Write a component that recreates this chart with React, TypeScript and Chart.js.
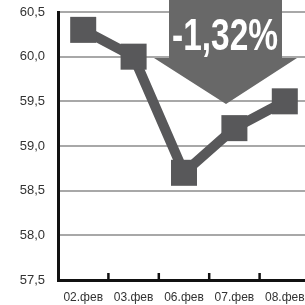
import React, { useEffect, useRef } from "react";
import { Chart, registerables } from "chart.js";

Chart.register(...registerables);

const categories = ["02.фев", "03.фев", "06.фев", "07.фев", "08.фев"];
const values = [60.3, 60.0, 58.7, 59.2, 59.5];
const yMin = 57.5;
const yMax = 60.5;
const yStep = 0.5;
const badgeText = "-1,32%";

const arrowPlugin = {
  id: "arrowBadge",
  beforeDatasetsDraw(chart: any) {
    const ctx = chart.ctx;
    ctx.save();
    ctx.fillStyle = "#686868";
    ctx.beginPath();
    ctx.moveTo(169, 0);
    ctx.lineTo(282, 0);
    ctx.lineTo(282, 58);
    ctx.lineTo(297, 58);
    ctx.lineTo(226, 104);
    ctx.lineTo(154, 58);
    ctx.lineTo(169, 58);
    ctx.closePath();
    ctx.fill();
    ctx.fillStyle = "#ffffff";
    ctx.font = 'bold 44px "Liberation Sans", sans-serif';
    ctx.textAlign = "center";
    ctx.textBaseline = "alphabetic";
    const w = ctx.measureText(badgeText).width;
    const sx = 106 / w;
    ctx.translate(225, 50);
    ctx.scale(sx, 1);
    ctx.fillText(badgeText, 0, 0);
    ctx.restore();
  },
  afterDraw(chart: any) {
    const ctx = chart.ctx;
    const x = chart.scales.x;
    const bottom = chart.chartArea.bottom;
    ctx.save();
    ctx.strokeStyle = "#111111";
    ctx.lineWidth = 2.5;
    for (let i = 1; i < categories.length; i++) {
      const px = (x.getPixelForValue(i - 1) + x.getPixelForValue(i)) / 2;
      ctx.beginPath();
      ctx.moveTo(px, bottom);
      ctx.lineTo(px, bottom - 7);
      ctx.stroke();
    }
    ctx.restore();
  },
};

export default function App() {
  const ref = useRef<HTMLCanvasElement>(null);
  useEffect(() => {
    if (!ref.current) return;
    const chart = new Chart(ref.current, {
      type: "line",
      data: {
        labels: categories,
        datasets: [
          {
            data: values,
            borderColor: "#58585a",
            backgroundColor: "#58585a",
            borderWidth: 10,
            pointStyle: "rect",
            pointRadius: 18.4,
            pointBorderWidth: 0,
            pointBackgroundColor: "#58585a",
            tension: 0,
            clip: false as any,
          },
        ],
      },
      options: {
        animation: false,
        responsive: false,
        devicePixelRatio: 1,
        layout: { autoPadding: false, padding: { top: 12, left: 0, right: 0, bottom: 0 } },
        plugins: { legend: { display: false }, tooltip: { enabled: false } },
        scales: {
          x: {
            offset: true,
            grid: {
              display: true,
              drawOnChartArea: false,
              drawTicks: true,
              tickLength: 10,
              tickColor: "rgba(0,0,0,0)",
              offset: true,
            },
            border: { display: true, color: "#111111", width: 3 },
            ticks: {
              color: "#333333",
              font: { family: '"Liberation Sans", sans-serif', size: 12 },
              padding: 0,
              maxRotation: 0,
            },
            afterFit: (s: any) => {
              s.height = 25;
            },
          },
          y: {
            min: yMin,
            max: yMax,
            grid: {
              color: "#a8a8a8",
              lineWidth: 2,
              drawTicks: true,
              tickLength: 12,
              tickColor: "rgba(0,0,0,0)",
            },
            border: { display: true, color: "#111111", width: 3 },
            ticks: {
              stepSize: yStep,
              color: "#333333",
              font: { family: '"Liberation Sans", sans-serif', size: 13 },
              padding: 1,
              callback: (v: any) => Number(v).toFixed(1).replace(".", ","),
            },
            afterFit: (s: any) => {
              s.width = 58;
            },
          },
        },
      },
      plugins: [arrowPlugin],
    });
    return () => chart.destroy();
  }, []);
  return (
    <div
      style={{
        position: "absolute",
        top: 0,
        left: 0,
        width: 305,
        height: 305,
        overflow: "hidden",
        background: "#ffffff",
      }}
    >
      <canvas ref={ref} width={310} height={305} style={{ width: 310, height: 305, display: "block" }} />
    </div>
  );
}
